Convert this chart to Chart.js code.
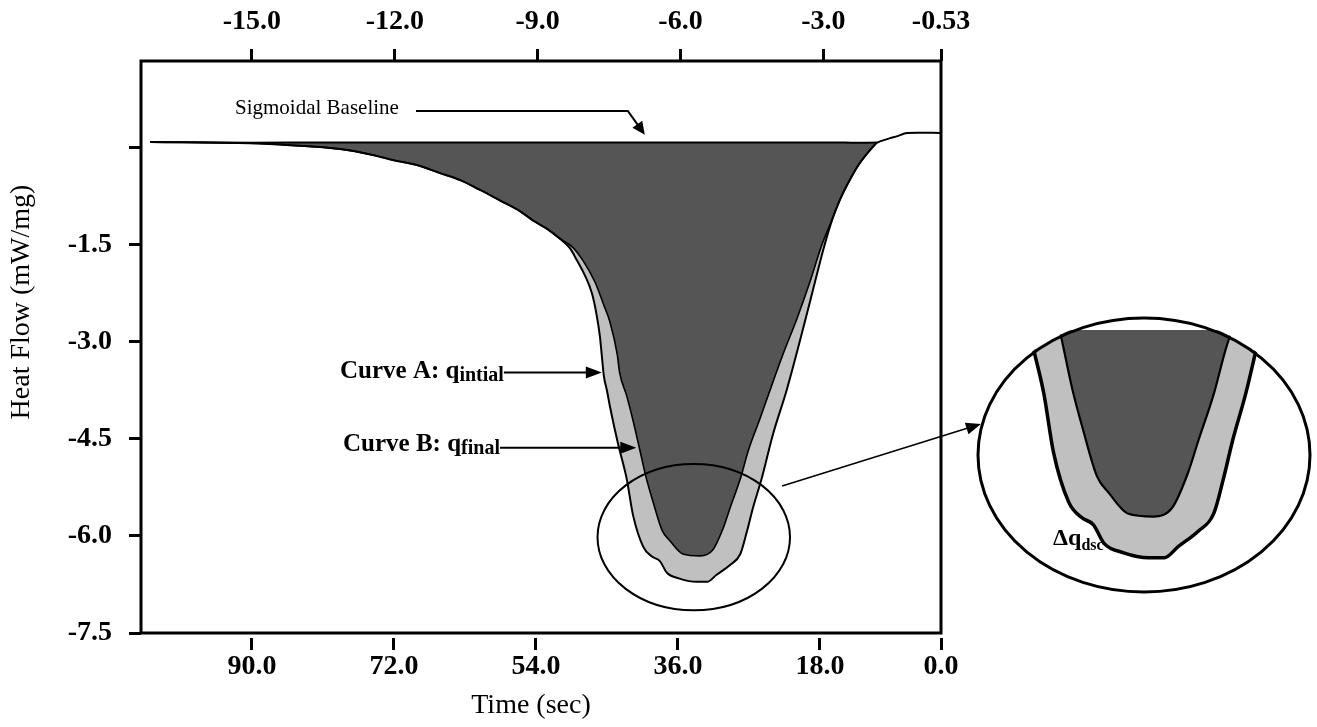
<!DOCTYPE html>
<html>
<head>
<meta charset="utf-8">
<script src="https://cdn.jsdelivr.net/npm/chart.js@4.4.1/dist/chart.umd.min.js"></script>
<style>
  html, body { margin: 0; padding: 0; background: #fff; }
  #wrap { position: relative; width: 1317px; height: 727px; overflow: hidden; }
  #main { position: absolute; left: 0; top: 0; }
  #zoom { position: absolute; left: 970px; top: 300px; }
</style>
</head>
<body>
<div id="wrap">
  <canvas id="main" width="1317" height="727"></canvas>
  <canvas id="zoom" width="347" height="310"></canvas>
</div>
<script>
// ---- tick labels ----
const timeTickValues = [90, 72, 54, 36, 18, 0];
const timeTickLabels = ['90.0', '72.0', '54.0', '36.0', '18.0', '0.0'];
const tempTickValues = [-15, -12, -9, -6, -3, -0.53];
const tempTickLabels = ['-15.0', '-12.0', '-9.0', '-6.0', '-3.0', '-0.53'];
const flowTickValues = [0, -1.5, -3.0, -4.5, -6.0, -7.5];
const flowTickLabels = ['', '-1.5', '-3.0', '-4.5', '-6.0', '-7.5'];

// ---- sigmoidal baseline (time in s, heat flow in mW/mg) ----
const baselineTime = [102.9, 95.0, 85.0, 70.0, 55.0, 40.0, 25.0, 15.0, 10.8, 10.4, 9.1, 8.2, 7.0, 2.7];
const baselineFlow = [0.08, 0.07, 0.07, 0.07, 0.07, 0.07, 0.07, 0.07, 0.07, 0.09, 0.14, 0.17, 0.22, 0.22];

// ---- Curve A: q initial (outer curve) ----
const curveATime = [102.9, 90.3, 85.2, 78.8, 74.7, 72.1, 68.7, 66.2, 63.6, 61.1, 58.6, 56.0, 54.4, 52.5, 51.0,
  49.7, 48.8, 47.8, 46.9, 46.3, 45.9, 45.6, 45.4, 45.0, 44.6, 43.6, 42.5, 41.7, 40.4, 39.3, 38.3, 37.4, 35.8,
  33.6, 32.3, 31.1, 29.4, 28.1, 27.3, 26.5, 25.4, 24.0, 22.2, 20.5, 18.9, 17.6, 16.4,
  15.5, 14.5, 13.2, 11.9, 10.8];
const curveAFlow = [0.08, 0.06, 0.03, -0.03, -0.12, -0.20, -0.29, -0.40, -0.51, -0.66, -0.82, -0.99, -1.13, -1.27, -1.41,
  -1.56, -1.75, -1.98, -2.26, -2.60, -2.92, -3.29, -3.53, -3.76, -4.02, -4.58, -5.12, -5.68, -6.17, -6.32, -6.39, -6.57, -6.66,
  -6.71, -6.71, -6.60, -6.45, -6.28, -5.95, -5.57, -5.12, -4.45, -3.74, -2.97, -2.21, -1.59, -1.10,
  -0.82, -0.57, -0.29, -0.08, 0.07];

// ---- Curve B: q final (inner curve) ----
const curveBTime = [102.9, 90.3, 85.2, 78.8, 74.7, 72.1, 68.7, 66.2, 63.6, 61.1, 58.6, 56.0, 54.4, 52.5, 51.0,
  49.4, 48.0, 46.5, 45.4, 44.6, 43.7, 43.4, 42.5, 41.7, 40.9, 40.1, 39.2, 38.0, 37.0, 35.4,
  33.2, 31.6, 30.3, 29.4, 28.1, 27.1, 25.6, 24.3, 22.7, 20.9, 19.3, 17.8, 16.4,
  15.5, 14.5, 13.2, 11.9, 10.8];
const curveBFlow = [0.08, 0.06, 0.03, -0.03, -0.12, -0.20, -0.29, -0.40, -0.51, -0.66, -0.82, -0.99, -1.13, -1.27, -1.41,
  -1.54, -1.76, -2.09, -2.44, -2.71, -3.20, -3.48, -3.84, -4.22, -4.64, -5.07, -5.46, -5.92, -6.08, -6.28,
  -6.31, -6.22, -5.89, -5.57, -5.12, -4.69, -4.19, -3.74, -3.20, -2.64, -2.09, -1.52, -1.10,
  -0.82, -0.57, -0.29, -0.08, 0.07];

const SERIF = "'Liberation Serif', 'Times New Roman', Times, serif";
const DARK = '#555555';
const LIGHT = '#c0c0c0';

const toPoints = (ts, qs) => ts.map((t, i) => ({ x: t, y: qs[i] }));

function buildDatasets(outerWidth, innerWidth, baseWidth) {
  return [
    {
      label: 'Sigmoidal Baseline',
      data: toPoints(baselineTime, baselineFlow),
      borderColor: baseWidth > 0 ? '#000' : 'rgba(0,0,0,0)',
      borderWidth: baseWidth,
      pointRadius: 0,
      fill: false,
      tension: 0.2
    },
    {
      label: 'Curve B: q final',
      data: toPoints(curveBTime, curveBFlow),
      borderColor: '#000',
      borderWidth: innerWidth,
      backgroundColor: DARK,
      pointRadius: 0,
      fill: 0,
      cubicInterpolationMode: 'monotone'
    },
    {
      label: 'Curve A: q initial',
      data: toPoints(curveATime, curveAFlow),
      borderColor: '#000',
      borderWidth: outerWidth,
      backgroundColor: LIGHT,
      pointRadius: 0,
      fill: 1,
      cubicInterpolationMode: 'monotone'
    }
  ];
}

function arrowLine(ctx, pts, headLen, headHalf, width) {
  const n = pts.length;
  const [xa, ya] = pts[n - 2];
  const [xb, yb] = pts[n - 1];
  const ang = Math.atan2(yb - ya, xb - xa);
  const bx = xb - headLen * Math.cos(ang), by = yb - headLen * Math.sin(ang);
  ctx.lineWidth = width;
  ctx.strokeStyle = '#000';
  ctx.fillStyle = '#000';
  ctx.beginPath();
  ctx.moveTo(pts[0][0], pts[0][1]);
  for (let i = 1; i < n - 1; i++) ctx.lineTo(pts[i][0], pts[i][1]);
  ctx.lineTo(bx + 0.5 * Math.cos(ang), by + 0.5 * Math.sin(ang));
  ctx.stroke();
  ctx.beginPath();
  ctx.moveTo(xb, yb);
  ctx.lineTo(bx + headHalf * Math.sin(ang), by - headHalf * Math.cos(ang));
  ctx.lineTo(bx - headHalf * Math.sin(ang), by + headHalf * Math.cos(ang));
  ctx.closePath();
  ctx.fill();
}

function subscriptText(ctx, main, sub, x, y, size, subSize, drop) {
  ctx.textAlign = 'left';
  ctx.textBaseline = 'alphabetic';
  ctx.font = `bold ${size}px ${SERIF}`;
  ctx.fillText(main, x, y);
  const w = ctx.measureText(main).width;
  ctx.font = `bold ${subSize}px ${SERIF}`;
  ctx.fillText(sub, x + w, y + drop);
  return x + w + ctx.measureText(sub).width;
}

// Frame, axis titles, ellipse and call-outs on the main plot
const mainDecor = {
  id: 'mainDecor',
  afterDraw(chart) {
    const ctx = chart.ctx;
    const ca = chart.chartArea;
    const X = v => chart.scales.x.getPixelForValue(v);
    const Y = v => chart.scales.y.getPixelForValue(v);
    ctx.save();

    // plot frame
    ctx.strokeStyle = '#000';
    ctx.lineWidth = 3;
    ctx.strokeRect(ca.left, ca.top, ca.right - ca.left, ca.bottom - ca.top);

    // axis titles
    ctx.fillStyle = '#000';
    ctx.font = `28px ${SERIF}`;
    ctx.textAlign = 'center';
    ctx.textBaseline = 'middle';
    ctx.fillText('Time (sec)', 531, 706);
    ctx.save();
    ctx.translate(22, 302);
    ctx.rotate(-Math.PI / 2);
    ctx.fillText('Heat Flow (mW/mg)', 0, 0);
    ctx.restore();

    // sigmoidal baseline call-out
    ctx.font = `21px ${SERIF}`;
    ctx.textAlign = 'left';
    ctx.textBaseline = 'alphabetic';
    ctx.fillText('Sigmoidal Baseline', 235, 114);
    const tipS = [X(40.2), Y(0.19)];
    arrowLine(ctx, [[416, 111], [tipS[0] - 17, 111], tipS], 13, 6, 2);

    // curve A call-out
    let end = subscriptText(ctx, 'Curve A: q', 'intial', 340, 378, 25, 20, 3);
    const tipA = [X(45.4) - 2, Y(-3.48)];
    arrowLine(ctx, [[end, tipA[1]], tipA], 16, 6, 2);

    // curve B call-out
    end = subscriptText(ctx, 'Curve B: q', 'final', 343, 451, 25, 20, 3);
    const tipB = [X(40.9) - 3, Y(-4.64)];
    arrowLine(ctx, [[end, tipB[1]], tipB], 16, 6, 2);

    // highlight ellipse around the minimum
    const cx = X(34.0), cy = Y(-6.02);
    const rx = Math.abs(X(34.0 - 12.2) - cx), ry = Math.abs(Y(-6.02 - 1.13) - cy);
    ctx.lineWidth = 2;
    ctx.beginPath();
    ctx.ellipse(cx, cy, rx, ry, 0, 0, Math.PI * 2);
    ctx.stroke();

    // leader to the magnified view
    arrowLine(ctx, [[X(22.8), Y(-5.23)], [981, 424]], 15, 6, 1.5);
    ctx.restore();
  }
};

const tickFont = { family: SERIF, size: 28, weight: 'bold' };
const gridStyle = {
  drawOnChartArea: false,
  drawTicks: true,
  tickLength: 17,
  tickWidth: 3,
  tickColor: '#000',
  tickBorderDash: [0, 5, 12, 100]
};

new Chart(document.getElementById('main'), {
  type: 'line',
  data: { datasets: buildDatasets(2, 1.6, 2) },
  plugins: [mainDecor],
  options: {
    responsive: false,
    animation: false,
    devicePixelRatio: 1,
    layout: { padding: { left: 0, top: 0, right: 376, bottom: 0 } },
    plugins: {
      legend: { display: false },
      tooltip: { enabled: false },
      filler: { drawTime: 'beforeDatasetsDraw' }
    },
    scales: {
      x: {
        type: 'linear',
        position: 'bottom',
        reverse: true,
        min: 2.66,
        max: 104.07,
        border: { display: false },
        grid: gridStyle,
        afterFit: s => { s.height = 94; },
        afterBuildTicks: s => { s.ticks = timeTickValues.map(v => ({ value: Math.max(v, s.min) })); },
        ticks: {
          autoSkip: false, maxRotation: 0, minRotation: 0, padding: 0,
          color: '#000', font: tickFont,
          callback: (v, i) => timeTickLabels[i]
        }
      },
      x2: {
        type: 'linear',
        position: 'top',
        min: -17.33,
        max: -0.53,
        border: { display: false },
        grid: gridStyle,
        afterFit: s => { s.height = 61; },
        afterBuildTicks: s => { s.ticks = tempTickValues.map(v => ({ value: v })); },
        ticks: {
          autoSkip: false, maxRotation: 0, minRotation: 0, padding: 5,
          color: '#000', font: tickFont,
          callback: (v, i) => tempTickLabels[i]
        }
      },
      y: {
        type: 'linear',
        position: 'left',
        min: -7.5,
        max: 1.33,
        border: { display: false },
        grid: gridStyle,
        afterFit: s => { s.width = 141; },
        afterBuildTicks: s => { s.ticks = flowTickValues.map(v => ({ value: v })); },
        ticks: {
          autoSkip: false, padding: 12,
          color: '#000', font: tickFont,
          callback: (v, i) => flowTickLabels[i]
        }
      }
    }
  }
});

// Magnified view of the peak minimum, clipped to its oval frame
const ZOOM_OVAL = { cx: 174, cy: 155, rx: 166, ry: 137 };
const zoomDecor = {
  id: 'zoomDecor',
  beforeDraw(chart) {
    const ctx = chart.ctx;
    ctx.save();
    ctx.beginPath();
    ctx.ellipse(ZOOM_OVAL.cx, ZOOM_OVAL.cy, ZOOM_OVAL.rx + 2, ZOOM_OVAL.ry + 2, 0, 0, Math.PI * 2);
    ctx.clip();
  },
  afterDatasetsDraw(chart) {
    chart.ctx.restore();
  },
  afterDraw(chart) {
    const ctx = chart.ctx;
    ctx.save();
    ctx.strokeStyle = '#000';
    ctx.lineWidth = 3;
    ctx.beginPath();
    ctx.ellipse(ZOOM_OVAL.cx, ZOOM_OVAL.cy, ZOOM_OVAL.rx, ZOOM_OVAL.ry, 0, 0, Math.PI * 2);
    ctx.stroke();
    ctx.fillStyle = '#000';
    subscriptText(ctx, '\u0394q', 'dsc', 83, 245, 24, 16, 5);
    ctx.restore();
  }
};

new Chart(document.getElementById('zoom'), {
  type: 'line',
  data: { datasets: buildDatasets(3.5, 2.2, 0) },
  plugins: [zoomDecor],
  options: {
    responsive: false,
    animation: false,
    devicePixelRatio: 1,
    layout: { padding: { left: 30, top: 30, right: 22, bottom: 10 } },
    plugins: {
      legend: { display: false },
      tooltip: { enabled: false },
      filler: { drawTime: 'beforeDatasetsDraw' }
    },
    scales: {
      x: { type: 'linear', display: false, reverse: true, min: 21.22, max: 46.22 },
      y: { type: 'linear', display: false, min: -7.12, max: -4.5 }
    }
  }
});
</script>
</body>
</html>
